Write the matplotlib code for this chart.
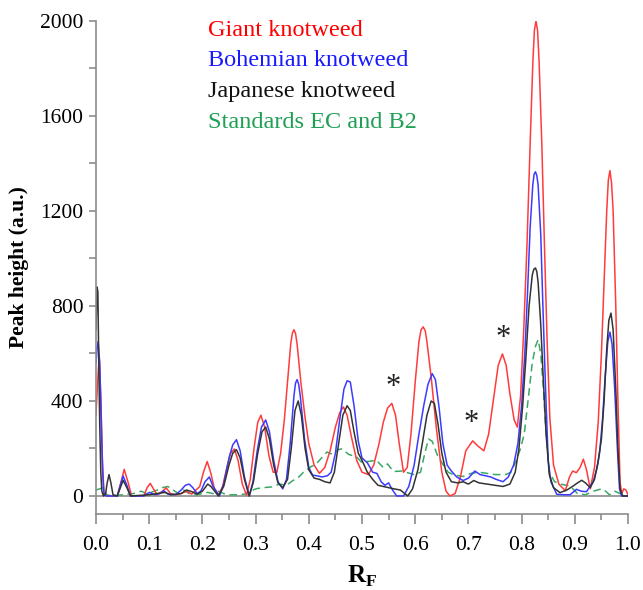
import matplotlib
matplotlib.use('Agg')
import matplotlib.pyplot as plt
from matplotlib.ticker import MultipleLocator

plt.rcParams['font.family'] = ['Liberation Serif', 'DejaVu Serif']
plt.rcParams['mathtext.fontset'] = 'custom'
plt.rcParams['mathtext.rm'] = 'Liberation Serif'
plt.rcParams['mathtext.bf'] = 'Liberation Serif:bold'

# Giant knotweed (red)
giant_x = [0.0, 0.003, 0.006, 0.009, 0.012, 0.015, 0.02, 0.04, 0.046, 0.053, 0.06, 0.067,
           0.09, 0.096, 0.102, 0.108, 0.115, 0.125, 0.132, 0.14, 0.15, 0.16, 0.17, 0.18,
           0.195, 0.202, 0.209, 0.216, 0.222, 0.23, 0.238, 0.246, 0.253, 0.26, 0.267, 0.275,
           0.283, 0.29, 0.297, 0.304, 0.31, 0.317, 0.325, 0.333, 0.34, 0.347, 0.354, 0.36,
           0.366, 0.369, 0.372, 0.375, 0.378, 0.385, 0.393, 0.4, 0.41, 0.42, 0.43, 0.44, 0.45, 0.458,
           0.465, 0.472, 0.48, 0.49, 0.5, 0.512, 0.522, 0.532, 0.54, 0.548, 0.556, 0.563,
           0.57, 0.578, 0.585, 0.592, 0.6, 0.607, 0.611, 0.615, 0.619, 0.622, 0.63, 0.64, 0.65, 0.658,
           0.665, 0.675, 0.685, 0.695, 0.708, 0.718, 0.729, 0.738, 0.748, 0.756, 0.764, 0.771,
           0.778, 0.786, 0.792, 0.798, 0.804, 0.81, 0.816, 0.821, 0.824, 0.827, 0.83, 0.833, 0.838, 0.843,
           0.848, 0.853, 0.86, 0.87, 0.882, 0.89, 0.896, 0.903, 0.91, 0.916, 0.922, 0.929,
           0.937, 0.944, 0.95, 0.955, 0.96, 0.963, 0.966, 0.969, 0.972, 0.977, 0.981, 0.985, 0.988, 0.992,
           0.996, 1.0]
giant_y = [340, 480, 585, 420, 150, 10, 0, 0, 50, 112, 60, 0,
           0, 35, 53, 30, 5, 20, 34, 10, 5, 10, 20, 8,
           40, 100, 145, 95, 35, 3, 40, 120, 180, 198, 150, 50,
           3, 70, 200, 310, 340, 290, 170, 100, 100, 180, 320, 480,
           640, 685, 700, 685, 640, 480, 330, 220, 130, 95, 120, 190, 290, 350,
           375, 340, 250, 150, 100, 90, 130, 220, 310, 370, 390, 340,
           220, 100, 120, 260, 480, 650, 700, 712, 695, 650, 500, 280, 100, 20,
           0, 10, 80, 190, 232, 210, 190, 260, 420, 550, 598, 550,
           430, 320, 290, 420, 700, 1050, 1480, 1820, 1960, 2000, 1960, 1820, 1480, 1050,
           650, 330, 130, 50, 22, 80, 105, 98, 120, 155, 110, 30,
           120, 310, 600, 900, 1200, 1330, 1370, 1320, 1200, 800, 400, 60, 10, 30,
           25, 5]

# Bohemian knotweed (blue)
bohemian_x = [0.0, 0.002, 0.004, 0.007, 0.01, 0.0125, 0.015, 0.02, 0.04, 0.045, 0.051, 0.058,
              0.065, 0.09, 0.1, 0.11, 0.12, 0.127, 0.135, 0.15, 0.16, 0.168, 0.175, 0.182,
              0.19, 0.197, 0.205, 0.213, 0.22, 0.232, 0.24, 0.25, 0.257, 0.264, 0.271, 0.279,
              0.288, 0.295, 0.303, 0.311, 0.319, 0.326, 0.334, 0.342, 0.351, 0.358, 0.365, 0.372,
              0.375, 0.378, 0.381, 0.384, 0.392, 0.4, 0.407, 0.415, 0.425, 0.435, 0.442, 0.45, 0.458, 0.466,
              0.472, 0.478, 0.485, 0.493, 0.5, 0.51, 0.52, 0.528, 0.536, 0.543, 0.55, 0.556,
              0.565, 0.578, 0.588, 0.598, 0.607, 0.616, 0.624, 0.632, 0.638, 0.645, 0.652, 0.66,
              0.668, 0.678, 0.69, 0.7, 0.712, 0.722, 0.732, 0.742, 0.752, 0.765, 0.775, 0.785,
              0.793, 0.8, 0.806, 0.811, 0.816, 0.821, 0.8235, 0.826, 0.8285, 0.831, 0.836, 0.84, 0.845, 0.85,
              0.855, 0.866, 0.88, 0.891, 0.903, 0.912, 0.922, 0.935, 0.942, 0.947, 0.952, 0.957,
              0.962, 0.966, 0.97, 0.975, 0.98, 0.984, 0.988, 1.0]
bohemian_y = [560, 620, 650, 560, 300, 100, 5, 0, 0, 40, 84, 45,
              0, 0, 15, 5, 10, 22, 8, 5, 25, 45, 50, 35,
              10, 20, 60, 80, 40, 0, 50, 160, 215, 237, 190, 80,
              0, 60, 190, 290, 320, 270, 150, 60, 30, 70, 220, 420,
              475, 490, 470, 420, 240, 120, 88, 85, 80, 85, 100, 180, 320, 450,
              485, 480, 380, 230, 160, 140, 100, 95, 60, 45, 55, 30,
              0, 0, 40, 130, 260, 380, 470, 515, 490, 370, 220, 130,
              105, 80, 65, 75, 105, 90, 85, 80, 70, 60, 80, 130,
              220, 380, 600, 850, 1130, 1310, 1355, 1365, 1350, 1310, 1100, 800, 450, 150,
              60, 7, 5, 5, 28, 20, 18, 63, 120, 190, 320, 500,
              650, 690, 640, 450, 200, 30, 0, 0]

# Japanese knotweed (black)
japanese_x = [0.0, 0.002, 0.0035, 0.005, 0.007, 0.009, 0.011, 0.014, 0.018, 0.021, 0.0245, 0.028,
              0.032, 0.04, 0.045, 0.051, 0.058, 0.065, 0.1, 0.12, 0.13, 0.14, 0.16, 0.17,
              0.178, 0.19, 0.2, 0.21, 0.216, 0.23, 0.24, 0.25, 0.257, 0.264, 0.271, 0.279,
              0.288, 0.296, 0.304, 0.312, 0.319, 0.326, 0.334, 0.342, 0.351, 0.36, 0.367, 0.374,
              0.38, 0.386, 0.393, 0.4, 0.41, 0.42, 0.43, 0.44, 0.448, 0.456, 0.464, 0.472,
              0.478, 0.485, 0.493, 0.5, 0.51, 0.52, 0.53, 0.54, 0.55, 0.56, 0.572, 0.586,
              0.595, 0.605, 0.614, 0.622, 0.63, 0.636, 0.643, 0.65, 0.658, 0.668, 0.68, 0.69,
              0.7, 0.71, 0.72, 0.735, 0.75, 0.765, 0.778, 0.788, 0.795, 0.802, 0.808, 0.814,
              0.82, 0.823, 0.826, 0.8285, 0.831, 0.836, 0.841, 0.846, 0.852, 0.86, 0.872, 0.885, 0.897, 0.905,
              0.913, 0.92, 0.929, 0.937, 0.944, 0.95, 0.955, 0.96, 0.964, 0.968, 0.972, 0.977,
              0.981, 0.985, 0.99, 1.0]
japanese_y = [700, 880, 860, 600, 300, 100, 20, 0, 10, 55, 90, 55,
              5, 0, 30, 66, 35, 0, 5, 12, 15, 5, 10, 25,
              20, 8, 20, 50, 40, 0, 40, 130, 180, 195, 160, 70,
              0, 60, 180, 270, 290, 240, 130, 55, 35, 70, 200, 360,
              400, 340, 200, 110, 75, 70, 60, 55, 100, 220, 340, 380,
              360, 270, 180, 150, 100, 70, 45, 40, 35, 30, 25, 0,
              30, 110, 230, 340, 400, 390, 300, 180, 100, 60, 55, 60,
              50, 65, 55, 50, 45, 40, 50, 100, 200, 380, 580, 800,
              930, 955, 960, 945, 900, 720, 480, 260, 90, 35, 14, 25, 42, 55,
              66, 55, 35, 70, 147, 240, 400, 620, 740, 770, 700, 450,
              200, 30, 0, 0]

# Standards EC and B2 (green, dashed)
standards_x = [0.0, 0.007, 0.014, 0.02, 0.03, 0.05, 0.07, 0.085, 0.095, 0.11, 0.125, 0.135,
               0.145, 0.155, 0.165, 0.175, 0.19, 0.2, 0.21, 0.22, 0.23, 0.24, 0.25, 0.27,
               0.285, 0.295, 0.302, 0.315, 0.33, 0.345, 0.358, 0.37, 0.378, 0.39, 0.396, 0.405,
               0.412, 0.42, 0.434, 0.445, 0.455, 0.462, 0.475, 0.49, 0.5, 0.51, 0.527, 0.54,
               0.548, 0.559, 0.575, 0.59, 0.6, 0.61, 0.618, 0.625, 0.632, 0.642, 0.653, 0.662,
               0.672, 0.69, 0.705, 0.72, 0.735, 0.75, 0.77, 0.78, 0.79, 0.798, 0.805, 0.812,
               0.82, 0.826, 0.831, 0.836, 0.841, 0.846, 0.852, 0.862, 0.875, 0.891, 0.905, 0.92,
               0.935, 0.95, 0.958, 0.965, 0.975, 0.985, 0.995]
standards_y = [25, 30, 35, 5, 0, 5, 10, 20, 10, 20, 35, 40,
               25, 10, 25, 10, 5, 10, 15, 10, 20, 10, 5, 5,
               10, 25, 31, 35, 38, 50, 45, 65, 73, 100, 108, 125,
               130, 150, 185, 175, 195, 198, 175, 164, 140, 145, 150, 120,
               135, 103, 105, 95, 89, 100, 180, 240, 230, 170, 130, 100,
               89, 82, 95, 100, 95, 90, 90, 100, 150, 200, 262, 400,
               560, 630, 658, 600, 450, 260, 100, 60, 49, 42, 10, 5,
               20, 30, 20, 5, 20, 10, 0]

legend_labels = ['Giant knotweed', 'Bohemian knotweed', 'Japanese knotweed', 'Standards EC and B2']
legend_colors = ['#ff0000', '#1a1aff', '#111111', '#1fa055']

# asterisks marking the extra giant knotweed peaks
star_x = [0.558, 0.705, 0.765]
star_y = [455, 305, 662]

fig = plt.figure(figsize=(6.43, 5.9), dpi=100)
ax = fig.add_axes([0.1493, 0.1288, 0.8274, 0.8356])

ax.plot(standards_x, standards_y, color='#3aa865', lw=1.1, ls=(0, (5, 3)))
ax.plot(giant_x, giant_y, color='#ff3b3b', lw=1.1)
ax.plot(bohemian_x, bohemian_y, color='#3b3bff', lw=1.1)
ax.plot(japanese_x, japanese_y, color='#333333', lw=1.1)

ax.axhline(0, color='#8c8c8c', lw=1.2, zorder=0)

ax.set_xlim(0, 1.0)
ax.set_ylim(-76, 2000)
ax.spines['top'].set_visible(False)
ax.spines['right'].set_visible(False)
for s in ['left', 'bottom']:
    ax.spines[s].set_color('#8c8c8c')
    ax.spines[s].set_linewidth(1.2)

ax.xaxis.set_major_locator(MultipleLocator(0.1))
ax.xaxis.set_minor_locator(MultipleLocator(0.05))
ax.set_yticks([0, 400, 800, 1200, 1600, 2000])
ax.yaxis.set_minor_locator(MultipleLocator(200))
ax.xaxis.set_major_formatter(plt.FuncFormatter(lambda v, p: '%.1f' % v))
ax.tick_params(axis='x', which='major', direction='out', length=7, width=1.2,
               color='#8c8c8c', labelsize=15.5, pad=9)
ax.tick_params(axis='x', which='minor', direction='out', length=4, width=1.2, color='#8c8c8c')
ax.tick_params(axis='y', which='both', direction='out', length=5, width=1.2,
               color='#8c8c8c', labelsize=15.5, pad=4)

ax.set_ylabel('Peak height (a.u.)', fontsize=15.5, fontweight='bold', labelpad=8)
ax.set_xlabel(r'$\mathbf{R}_\mathbf{F}$', fontsize=18, labelpad=6)

for i, (lab, col) in enumerate(zip(legend_labels, legend_colors)):
    ax.text(0.2105, 1962 - i * 130, lab, color=col, fontsize=17.5, va='center', ha='left')

for sx, sy in zip(star_x, star_y):
    ax.text(sx, sy, '*', fontsize=22, ha='center', va='center', color='#222222')

fig.savefig('out.png', dpi=100)
